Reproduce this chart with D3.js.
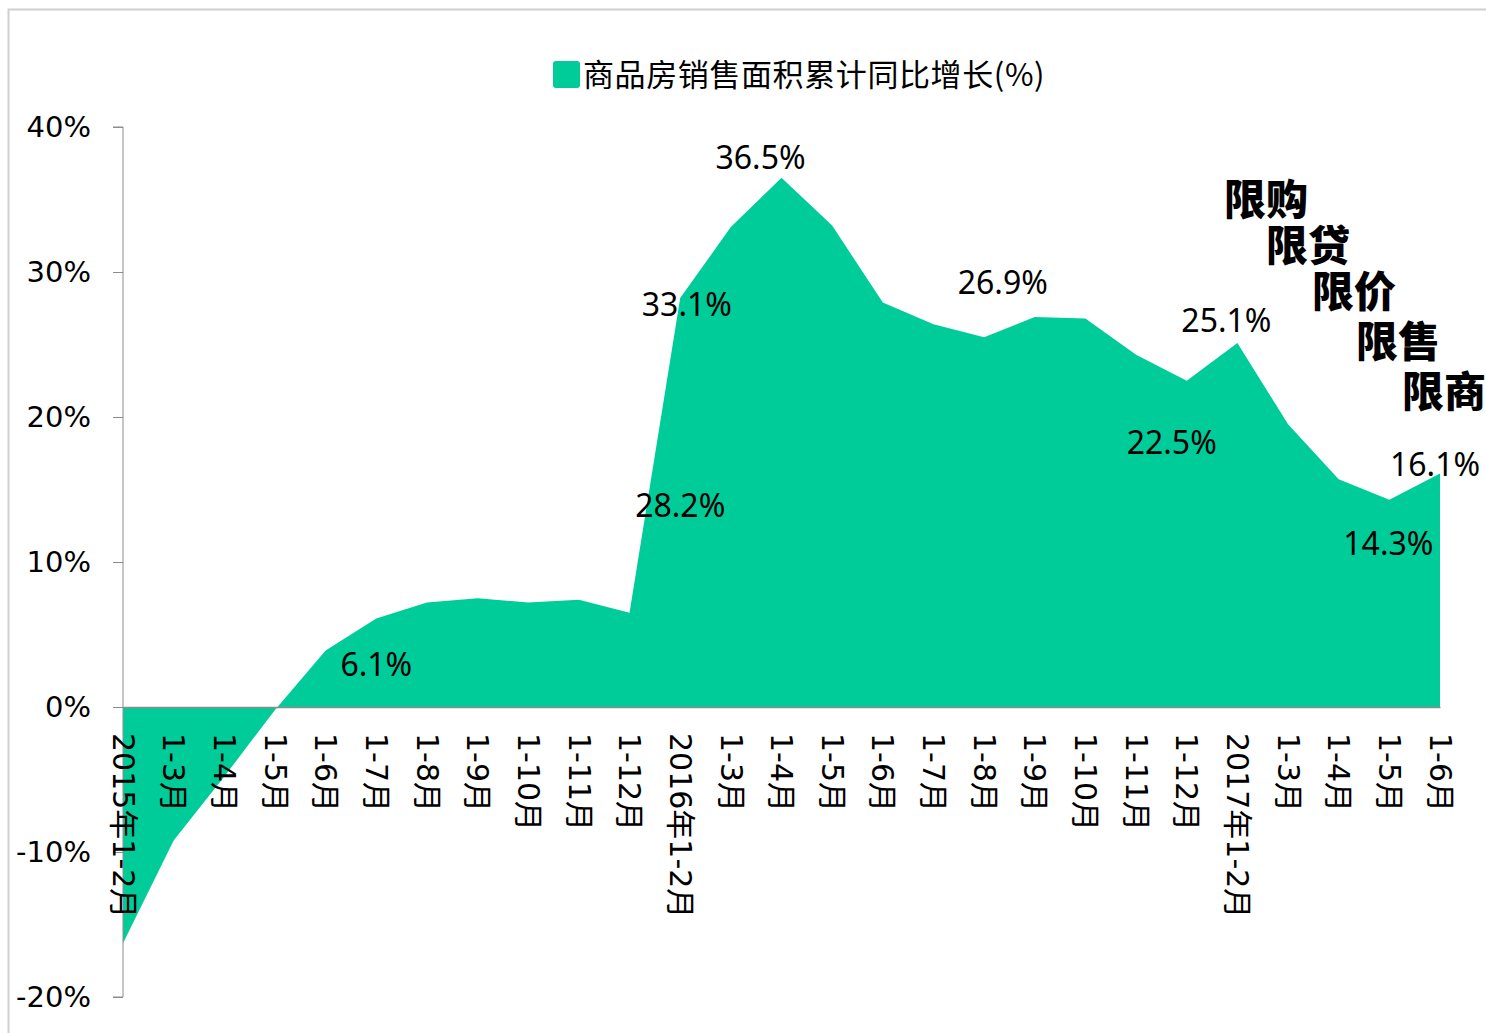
<!DOCTYPE html>
<html>
<head>
<meta charset="utf-8">
<script src="https://cdn.jsdelivr.net/npm/d3@7/dist/d3.min.js"></script>
<style>
  body { margin: 0; background: #fff; }
  svg { display: block; }
</style>
</head>
<body>
<div id="chart"></div>
<script>
// Categories (x axis)
const categories = [
  "2015年1-2月", "1-3月", "1-4月", "1-5月", "1-6月", "1-7月", "1-8月", "1-9月", "1-10月", "1-11月", "1-12月",
  "2016年1-2月", "1-3月 ", "1-4月 ", "1-5月 ", "1-6月 ", "1-7月 ", "1-8月 ", "1-9月 ", "1-10月 ", "1-11月 ", "1-12月 ",
  "2017年1-2月", "1-3月  ", "1-4月  ", "1-5月  ", "1-6月  "
];

// 商品房销售面积累计同比增长(%)
const growth = [
  -16.3, -9.2, -4.8, -0.2, 3.9, 6.1, 7.2, 7.5, 7.2, 7.4, 6.5,
  28.2, 33.1, 36.5, 33.2, 27.9, 26.4, 25.5, 26.9, 26.8, 24.3, 22.5,
  25.1, 19.5, 15.7, 14.3, 16.1
];

const yTicks = [-20, -10, 0, 10, 20, 30, 40];

// which points carry a value label
const labelled = [5, 11, 12, 13, 18, 21, 22, 25, 26];

const policies = ["限购", "限贷", "限价", "限售", "限商"];
const seriesName = "商品房销售面积累计同比增长(%)";

window.onload = () => {
  const width = 1486, height = 1033;
  const green = "#00CC99";
  const axisGrey = "#8c8c8c";

  const svg = d3.select("#chart").append("svg")
    .attr("width", width)
    .attr("height", height);

  // outer frame (right/bottom edges run off the page)
  svg.append("rect")
    .attr("x", 8.5).attr("y", 9.5)
    .attr("width", width + 20).attr("height", height + 20)
    .attr("fill", "none")
    .attr("stroke", "#d0d0d0")
    .attr("stroke-width", 2);

  const x = d3.scalePoint()
    .domain(categories)
    .range([123, 1440]);

  const y = d3.scaleLinear()
    .domain([-20, 40])
    .range([997, 127]);

  // area
  const area = d3.area()
    .x((d, i) => x(categories[i]))
    .y0(y(0))
    .y1(d => y(d));

  svg.append("path")
    .datum(growth)
    .attr("d", area)
    .attr("fill", green);

  // y axis
  const yAxis = d3.axisLeft(y)
    .tickValues(yTicks)
    .tickSize(10)
    .tickPadding(22)
    .tickFormat(d => d + "%");

  const gy = svg.append("g")
    .attr("transform", "translate(123,0)")
    .call(yAxis);
  gy.select(".domain").attr("stroke", axisGrey).attr("d", `M-10,${y(40)}H0V${y(-20)}H-10`);
  gy.selectAll(".tick line").attr("stroke", axisGrey);
  gy.selectAll(".tick text")
    .attr("fill", "#000")
    .style("font-family", "'DejaVu Sans', sans-serif")
    .style("font-size", "29px");

  // x axis at zero
  const xAxis = d3.axisBottom(x)
    .tickSize(0)
    .tickPadding(0);

  const gx = svg.append("g")
    .attr("transform", `translate(0,${y(0)})`)
    .call(xAxis);
  gx.select(".domain").attr("stroke", axisGrey).attr("stroke-width", 1.5);
  gx.selectAll(".tick text")
    .attr("transform", "rotate(90)")
    .attr("x", 26)
    .attr("y", 0)
    .attr("dy", "0.36em")
    .attr("text-anchor", "start")
    .attr("fill", "#000")
    .style("font-family", "'DejaVu Sans', 'Noto Sans CJK SC', sans-serif")
    .style("font-size", "30px");

  // value labels, nudged as in the original layout
  const labelShift = {
    5: [0, 57], 11: [0, 219], 12: [-44, 89], 13: [-21, -9], 18: [-32, -23],
    21: [-15, 73], 22: [-11, -11], 25: [-1, 55], 26: [-5, 2]
  };

  svg.append("g")
    .selectAll("text")
    .data(labelled)
    .enter()
    .append("text")
    .attr("x", i => x(categories[i]) + labelShift[i][0])
    .attr("y", i => y(growth[i]) + labelShift[i][1])
    .attr("text-anchor", "middle")
    .style("font-family", "'Noto Sans', 'Noto Sans CJK SC', sans-serif")
    .style("font-size", "32px")
    .text(i => growth[i].toFixed(1) + "%");

  // legend
  const legend = svg.append("g");
  legend.append("rect")
    .attr("x", 553).attr("y", 61)
    .attr("width", 27).attr("height", 27)
    .attr("rx", 3)
    .attr("fill", green);
  legend.append("text")
    .attr("x", 583).attr("y", 86)
    .style("font-family", "'Noto Sans CJK SC', sans-serif")
    .style("font-size", "31px")
    .style("letter-spacing", "0.6px")
    .text(seriesName);

  // policy annotation, stepping down to the right
  const policyPos = [[1224, 215], [1266, 261], [1312, 307], [1356, 357], [1402, 407]];
  svg.append("g")
    .selectAll("text")
    .data(policies)
    .enter()
    .append("text")
    .attr("x", (d, i) => policyPos[i][0])
    .attr("y", (d, i) => policyPos[i][1])
    .style("font-family", "'Noto Sans CJK SC', sans-serif")
    .style("font-weight", "900")
    .style("font-size", "42px")
    .text(d => d);
};
</script>
</body>
</html>
